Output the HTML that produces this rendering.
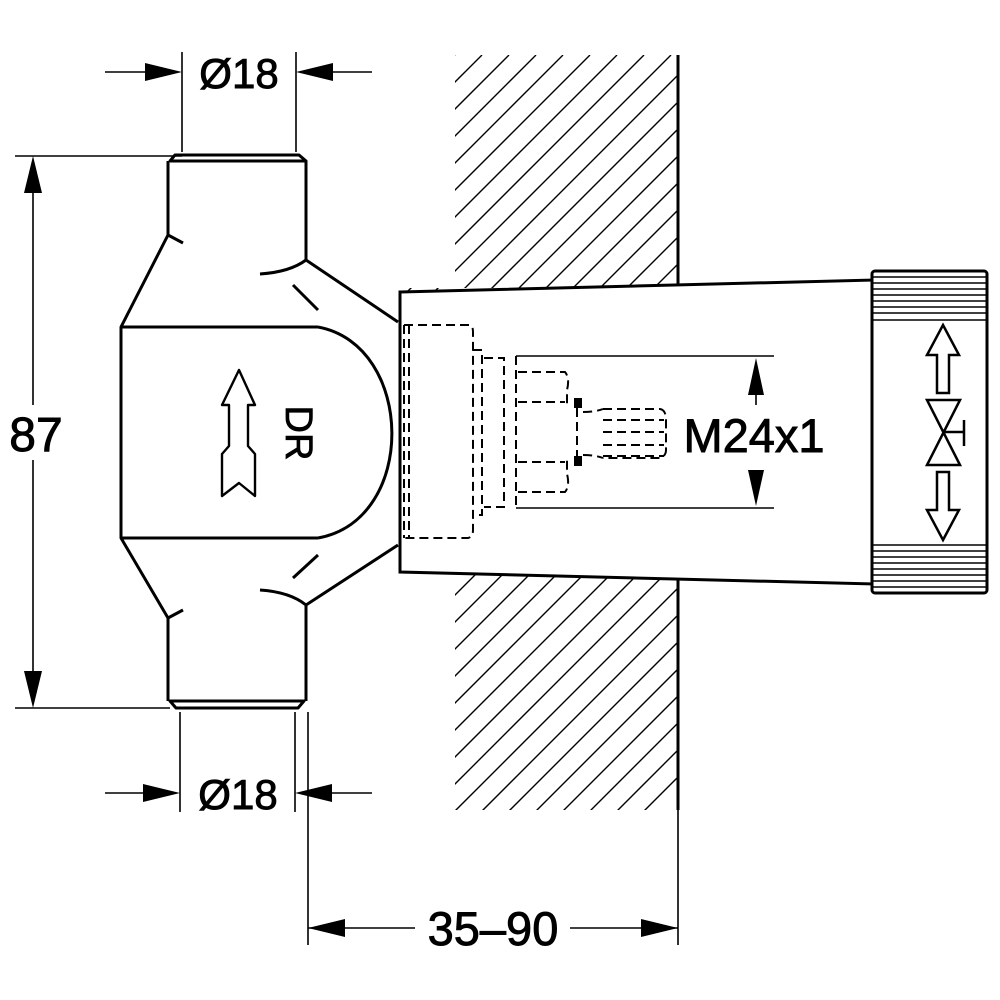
<!DOCTYPE html>
<html><head><meta charset="utf-8"><style>html,body{margin:0;padding:0;background:#fff}svg{display:block}</style></head>
<body>
<svg width="1000" height="1000" viewBox="0 0 1000 1000" xmlns="http://www.w3.org/2000/svg">
<defs>
<clipPath id="wall"><path d="M455 55 H678 V288 H400 V574 H678 V945 H455 Z"/></clipPath>
</defs>
<rect width="1000" height="1000" fill="#fff"/>
<g clip-path="url(#wall)" stroke="#000" stroke-width="1.4">
<path d="M455 1000 L1400 55 M428 1000 L1373 55 M401 1000 L1346 55 M374 1000 L1319 55 M347 1000 L1292 55 M320 1000 L1265 55 M293 1000 L1238 55 M266 1000 L1211 55 M239 1000 L1184 55 M212 1000 L1157 55 M185 1000 L1130 55 M158 1000 L1103 55 M131 1000 L1076 55 M104 1000 L1049 55 M77 1000 L1022 55 M50 1000 L995 55 M23 1000 L968 55 M-4 1000 L941 55 M-31 1000 L914 55 M-58 1000 L887 55 M-85 1000 L860 55 M-112 1000 L833 55 M-139 1000 L806 55 M-166 1000 L779 55 M-193 1000 L752 55 M-220 1000 L725 55 M-247 1000 L698 55 M-274 1000 L671 55 M-301 1000 L644 55 M-328 1000 L617 55 M-355 1000 L590 55 M-382 1000 L563 55 M-409 1000 L536 55 M-436 1000 L509 55 M-463 1000 L482 55 M-490 1000 L455 55 M-517 1000 L428 55 M-544 1000 L401 55 M-571 1000 L374 55"/>
</g>
<g clip-path="url(#wall)"><rect x="455" y="810" width="230" height="200" fill="#fff"/></g>
<path d="M678 55 V288 M678 578 V810" stroke="#000" stroke-width="3"/>

<g fill="none" stroke="#000" stroke-width="3" stroke-linejoin="round">
<path d="M175 155 H299 L306 161 H170 Z" fill="#fff"/>
<path d="M168 161 V235 L121 327 V538 L168 618 V701 M306 161 V260 L398 322 M306 701 V605 L398 545"/>
<path d="M170 701 H304 L298 708 H176 Z" fill="#fff"/>
<path d="M121 327 H318 M121 538 H318"/>
<path d="M318 327 C415 345 418 520 318 538"/>
<path d="M168 235 L183 243 M306 260 Q290 272 260 274 M293 285 L318 310"/>
<path d="M168 618 L183 610 M306 605 Q290 592 260 590 M293 578 L318 555"/>
<path d="M239 370 L255 405 H248 V446 L255 454 V496 L239 483 L222 496 V454 L229 446 V405 H222 Z" stroke-width="2.4"/>
</g>
<text x="296" y="433" font-family="Liberation Sans, sans-serif" font-size="38" text-anchor="middle" transform="rotate(90 296 433)" dominant-baseline="middle" stroke="#000" stroke-width="0.8">DR</text>

<path d="M400 292 L874 280 V584 L400 572 Z" fill="#fff" stroke="#000" stroke-width="3"/>
<g stroke="#000" fill="none">
<rect x="872" y="271" width="115" height="322" rx="3" fill="#fff" stroke-width="3"/>
<path d="M872 277 H987 M872 283 H987 M872 289 H987 M872 295 H987 M872 301 H987 M872 307 H987 M872 313 H987 M872 320 H987 M872 545 H987 M872 551 H987 M872 557 H987 M872 563 H987 M872 569 H987 M872 575 H987 M872 581 H987 M872 587 H987" stroke-width="1.6"/>
<path d="M943 325 L959 355 H949 V393 H937 V355 H927 Z" stroke-width="2.5"/>
<path d="M927 400 H960 L927 465 H960 Z M943 432 H964 M964 420 V446" stroke-width="2.5"/>
<path d="M943 540 L959 510 H949 V472 H937 V510 H927 Z" stroke-width="2.5"/>
</g>
<g fill="none" stroke="#000" stroke-width="2" stroke-dasharray="9 5">
<path d="M404 325 V538 M409 325 V538"/>
<path d="M404 325 H470 Q473 326 473 332 V530 Q473 537 468 538 H404"/>
<path d="M473 350 H482 V515 H473"/>
<path d="M484 358 H504 V507 H484"/>
<path d="M516 356 V508"/>
<path d="M518 372 H565 Q570 378 567 390 V407 M518 402 H565"/>
<path d="M518 492 H565 Q570 486 567 474 V457 M518 462 H565"/>
<path d="M603 409 H660 Q666 410 666 420 V450 Q666 456 660 458 H603 M603 420 H664 M603 432 H664 M603 445 H664 M603 456 H664"/>
<path d="M577 408 V458 M583 412 Q595 412 603 409 M583 455 Q595 455 603 458"/>
</g>
<rect x="574" y="398" width="8" height="10" fill="#000"/>
<rect x="574" y="456" width="8" height="10" fill="#000"/>

<g stroke="#000" stroke-width="1.6" fill="#000">
<path d="M516 356 H774 M516 508 H774 M756 395 V405 M756 470 V480" fill="none"/>
<path d="M756 358 L748 395 H764 Z M756 506 L748 470 H764 Z" stroke="none"/>
</g>
<g font-family="Liberation Sans, sans-serif" fill="#000" stroke="#000" stroke-width="0.9">
<text x="754" y="452" font-size="47" text-anchor="middle">M24x1</text>
<text x="239" y="88" font-size="42" text-anchor="middle">Ø18</text>
<text x="238" y="809" font-size="42" text-anchor="middle">Ø18</text>
<text x="36" y="451" font-size="48" text-anchor="middle">87</text>
<text x="493" y="945" font-size="47" text-anchor="middle">35–90</text>
</g>

<g stroke="#000" stroke-width="1.6" fill="none">
<path d="M182 52 V152 M296 52 V152 M105 72 H150 M332 72 H372"/>
<path d="M182 156 H15 M170 708 H15"/>
<path d="M33 160 V405 M33 460 V704"/>
<path d="M180 712 V812 M295 712 V812 M105 793 H150 M332 793 H372"/>
<path d="M308 712 V945 M678 810 V945 M308 928 H415 M570 928 H678"/>
</g>
<g fill="#000">
<path d="M182 72 L145 63 V81 Z M296 72 L333 63 V81 Z"/>
<path d="M33 156 L24 193 H42 Z M33 708 L24 671 H42 Z"/>
<path d="M180 793 L143 784 V802 Z M295 793 L332 784 V802 Z"/>
<path d="M308 928 L345 919 V937 Z M678 928 L641 919 V937 Z"/>
</g>
</svg>
</body></html>
